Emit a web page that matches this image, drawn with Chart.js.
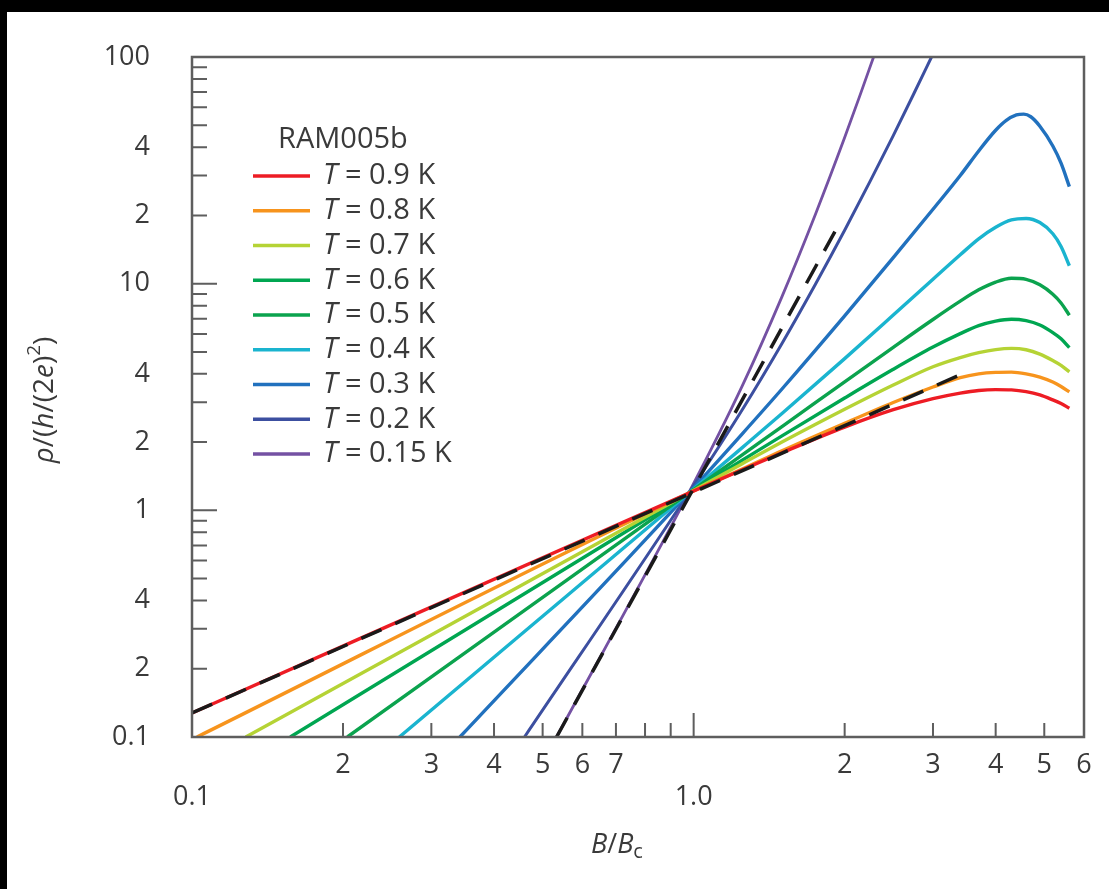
<!DOCTYPE html>
<html>
<head>
<meta charset="utf-8">
<script src="https://cdn.jsdelivr.net/npm/chart.js@4"></script>
<style>
  html, body { margin: 0; background: #000; }
  #wrap { position: absolute; left: 7px; top: 12px; width: 1102px; height: 877px; background: #fff; }
</style>
</head>
<body>
<div id="wrap"><canvas id="chart" width="1102" height="877"></canvas></div>
<script>
// sample name and temperatures
const sampleName = 'RAM005b';
const temperatures = ['0.9', '0.8', '0.7', '0.6', '0.5', '0.4', '0.3', '0.2', '0.15'];

// B/Bc and rho/(h/(2e)^2), one pair per temperature
const fieldT090 = [0.1, 0.977, 1.25, 1.5, 2, 2.5, 3, 3.4, 3.7, 4.0, 4.3, 4.6, 4.9, 5.2, 5.4, 5.61];
const rhoT090   = [0.1276, 1.19, 1.51, 1.795, 2.33, 2.78, 3.11, 3.29, 3.38, 3.41, 3.40, 3.34, 3.23, 3.07, 2.96, 2.82];
const fieldT080 = [0.1023, 0.977, 1.25, 1.5, 2, 2.5, 3, 3.4, 3.7, 4.0, 4.3, 4.6, 4.9, 5.2, 5.4, 5.61];
const rhoT080   = [0.1, 1.19, 1.52, 1.83, 2.42, 2.99, 3.50, 3.85, 4.0, 4.06, 4.07, 4.0, 3.87, 3.68, 3.52, 3.33];
const fieldT070 = [0.128, 0.977, 1.25, 1.5, 2, 2.5, 3, 3.4, 3.7, 4.0, 4.3, 4.6, 4.9, 5.2, 5.4, 5.61];
const rhoT070   = [0.1, 1.19, 1.607, 2.0, 2.79, 3.57, 4.30, 4.72, 4.96, 5.12, 5.18, 5.11, 4.89, 4.58, 4.36, 4.08];
const fieldT060 = [0.157, 0.977, 1.25, 1.5, 2, 2.5, 3, 3.4, 3.7, 4.0, 4.3, 4.6, 4.9, 5.2, 5.4, 5.61];
const rhoT060   = [0.1, 1.19, 1.663, 2.13, 3.13, 4.19, 5.25, 6.02, 6.53, 6.84, 6.97, 6.87, 6.57, 6.08, 5.71, 5.22];
const fieldT050 = [0.204, 0.977, 1.25, 1.5, 2, 2.5, 3, 3.4, 3.7, 4.0, 4.3, 4.6, 4.9, 5.2, 5.4, 5.61];
const rhoT050   = [0.1, 1.19, 1.757, 2.34, 3.69, 5.24, 6.95, 8.37, 9.39, 10.16, 10.56, 10.45, 9.88, 8.98, 8.22, 7.26];
const fieldT040 = [0.259, 0.977, 1.25, 1.5, 2, 2.5, 3, 3.4, 3.7, 4.0, 4.3, 4.6, 4.9, 5.2, 5.4, 5.61];
const rhoT040   = [0.1, 1.19, 1.891, 2.672, 4.67, 7.27, 10.46, 13.41, 15.77, 17.73, 19.1, 19.4, 18.6, 16.6, 14.6, 12.0];
const fieldT030 = [0.342, 0.977, 1.25, 1.5, 2, 2.5, 3, 3.4, 3.7, 4.0, 4.2, 4.4, 4.55, 4.7, 4.9, 5.2, 5.4, 5.61];
const rhoT030   = [0.1, 1.19, 2.176, 3.43, 7.21, 13.02, 21.29, 30.0, 38.5, 47.5, 52.5, 55.5, 56.0, 54.5, 49.5, 40.5, 34.0, 26.8];
const fieldT020 = [0.46, 0.977, 1.25, 1.5, 1.75, 2, 2.25, 2.5, 2.75, 2.98];
const rhoT020   = [0.1, 1.19, 2.78, 5.45, 9.97, 17.2, 28.4, 45.0, 69.2, 100];
const fieldT015 = [0.533, 0.977, 1.25, 1.5, 1.75, 2, 2.15, 2.284];
const rhoT015   = [0.1, 1.19, 3.54, 8.77, 20.3, 44.1, 68.6, 100];

// dashed power-law guides
const fitHighField = [0.1, 3.44];
const fitHighRho   = [0.1276, 4.01];
const fitLowField  = [0.533, 1.93];
const fitLowRho    = [0.1, 17.6];

// axis ticks
const xTickValues = [0.1, 0.2, 0.3, 0.4, 0.5, 0.6, 0.7, 0.8, 0.9, 1, 2, 3, 4, 5, 6];
const xTickLabels = ['0.1', '2', '3', '4', '5', '6', '7', '', '', '1.0', '2', '3', '4', '5', '6'];
const yTickValues = [0.1, 0.2, 0.3, 0.4, 0.5, 0.6, 0.7, 0.8, 0.9, 1, 2, 3, 4, 5, 6, 7, 8, 9,
                     10, 20, 30, 40, 50, 60, 70, 80, 90, 100];
const yTickLabels = ['0.1', '2', '', '4', '', '', '', '', '', '1', '2', '', '4', '', '', '', '', '',
                     '10', '2', '', '4', '', '', '', '', '', '100'];

const colors = ['#ed1c24', '#f7941d', '#b5d335', '#00a651', '#0ba34e', '#1ab4cf', '#2171be', '#3c4fa0', '#7451a3'];
const widths = [3.4, 3.4, 3.4, 3.4, 3.4, 3.4, 3.4, 3, 2.8];
const fields = [fieldT090, fieldT080, fieldT070, fieldT060, fieldT050, fieldT040, fieldT030, fieldT020, fieldT015];
const rhos = [rhoT090, rhoT080, rhoT070, rhoT060, rhoT050, rhoT040, rhoT030, rhoT020, rhoT015];

const textColor = '#3a3a3a';
const axisColor = '#5e5e5e';
const FONT = '"Open Sans", "Noto Sans", sans-serif';

const toPoints = (xs, ys) => xs.map((v, i) => ({ x: v, y: ys[i] }));

const datasets = temperatures.map((t, i) => ({
  label: 'T = ' + t + ' K',
  data: toPoints(fields[i], rhos[i]),
  borderColor: colors[i],
  borderWidth: widths[i],
  cubicInterpolationMode: 'monotone',
  order: 1
}));
[[fitHighField, fitHighRho], [fitLowField, fitLowRho]].forEach(([f, r]) => {
  datasets.push({
    label: 'fit',
    isFit: true,
    data: toPoints(f, r),
    borderColor: '#1a1a1a',
    borderWidth: 3.5,
    borderDash: [22, 15],
    borderCapStyle: 'butt',
    order: 0
  });
});

// draws a run of text pieces (italic / sub / superscript) centred on cx
function drawRich(ctx, parts, cx, cy) {
  const fontOf = p => (p.italic ? 'italic ' : '') + p.size + 'px ' + FONT;
  let total = 0;
  parts.forEach(p => { ctx.font = fontOf(p); p.w = ctx.measureText(p.t).width; total += p.w; });
  let x = cx - total / 2;
  ctx.textAlign = 'left';
  parts.forEach(p => {
    ctx.font = fontOf(p);
    ctx.fillText(p.t, x, cy + (p.dy || 0));
    x += p.w;
  });
}

const paperAxes = {
  id: 'paperAxes',
  afterDatasetsDraw(chart) {
    const { ctx, chartArea: a, scales: { x, y } } = chart;
    ctx.save();

    // frame
    ctx.strokeStyle = axisColor;
    ctx.lineWidth = 2.5;
    ctx.strokeRect(a.left, a.top, a.right - a.left, a.bottom - a.top);

    // inward ticks
    ctx.lineWidth = 2;
    const isDecade = v => Math.abs(Math.log10(v) - Math.round(Math.log10(v))) < 1e-9;
    ctx.beginPath();
    xTickValues.forEach(v => {
      const px = x.getPixelForValue(v);
      const len = isDecade(v) ? 24 : 14;
      ctx.moveTo(px, a.bottom);
      ctx.lineTo(px, a.bottom - len);
    });
    yTickValues.forEach(v => {
      const py = y.getPixelForValue(v);
      const len = isDecade(v) ? 25 : 15;
      ctx.moveTo(a.left, py);
      ctx.lineTo(a.left + len, py);
    });
    ctx.stroke();

    // tick labels
    ctx.fillStyle = textColor;
    ctx.font = '27px ' + FONT;
    ctx.textBaseline = 'middle';
    ctx.textAlign = 'center';
    xTickValues.forEach((v, i) => {
      if (!xTickLabels[i]) return;
      const row = isDecade(v) ? 60 : 28;
      ctx.fillText(xTickLabels[i], x.getPixelForValue(v), a.bottom + row);
    });
    ctx.textAlign = 'right';
    yTickValues.forEach((v, i) => {
      if (!yTickLabels[i]) return;
      ctx.fillText(yTickLabels[i], a.left - 42, y.getPixelForValue(v));
    });

    // axis titles
    drawRich(ctx, [
      { t: 'B', italic: true, size: 27 },
      { t: '/', size: 27 },
      { t: 'B', italic: true, size: 27 },
      { t: 'c', size: 20, dy: 7 }
    ], 610, a.bottom + 108);

    ctx.save();
    ctx.translate(38, 388);
    ctx.rotate(-Math.PI / 2);
    drawRich(ctx, [
      { t: 'ρ', italic: true, size: 28 },
      { t: '/(', size: 28 },
      { t: 'h', italic: true, size: 28 },
      { t: '/(2', size: 28 },
      { t: 'e', italic: true, size: 28 },
      { t: ')', size: 28 },
      { t: '2', size: 19, dy: -10 },
      { t: ')', size: 28 }
    ], 0, 0);
    ctx.restore();

    // legend
    ctx.textAlign = 'left';
    ctx.font = '29px ' + FONT;
    ctx.fillText(sampleName, a.left + 86, a.top + 83);
    chart.data.datasets.filter(d => !d.isFit).forEach((d, i) => {
      const ly = a.top + 119 + i * 34.75;
      ctx.strokeStyle = d.borderColor;
      ctx.lineWidth = 3.5;
      ctx.beginPath();
      ctx.moveTo(a.left + 61, ly);
      ctx.lineTo(a.left + 118, ly);
      ctx.stroke();
      ctx.font = 'italic 29px ' + FONT;
      ctx.fillText('T', a.left + 131, ly);
      const w = ctx.measureText('T').width;
      ctx.font = '29px ' + FONT;
      ctx.fillText(d.label.slice(1), a.left + 131 + w, ly);
    });

    ctx.restore();
  }
};

new Chart(document.getElementById('chart'), {
  type: 'line',
  data: { datasets },
  options: {
    responsive: false,
    animation: false,
    devicePixelRatio: 1,
    layout: { padding: { left: 185, top: 45, right: 25, bottom: 152 } },
    elements: { point: { radius: 0 } },
    plugins: { legend: { display: false }, tooltip: { enabled: false } },
    scales: {
      x: { type: 'logarithmic', min: 0.1, max: 6, display: false },
      y: { type: 'logarithmic', min: 0.1, max: 100, display: false }
    }
  },
  plugins: [paperAxes]
});
</script>
</body>
</html>
